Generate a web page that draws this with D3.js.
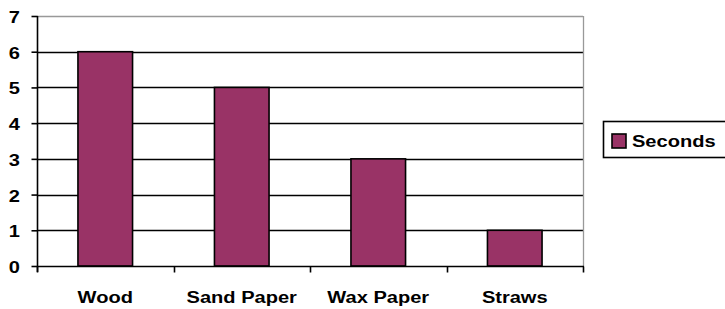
<!DOCTYPE html>
<html>
<head>
<meta charset="utf-8">
<script src="https://cdn.jsdelivr.net/npm/d3@7"></script>
<style>
  html, body { margin: 0; padding: 0; background: #fff; }
  svg { display: block; }
  text { font-family: "Liberation Sans", Arial, sans-serif; font-weight: bold; fill: #000; }
</style>
</head>
<body>
<div id="chart"></div>
<script>
// Data
var categories = ['Wood', 'Sand Paper', 'Wax Paper', 'Straws'];
var seconds = [6, 5, 3, 1];
var yTicks = [0, 1, 2, 3, 4, 5, 6, 7];
var seriesName = 'Seconds';

var width = 725, height = 309;
var plot = { left: 37, right: 583, top: 16, bottom: 266 };
var barColor = '#993366';
var stretch = 1.18; // text in the picture is drawn a bit wide

var svg = d3.select('#chart')
    .append('svg')
    .attr('width', width)
    .attr('height', height);

var x = d3.scaleBand()
    .domain(categories)
    .range([plot.left, plot.right])
    .paddingInner(0.6)
    .paddingOuter(0.3);

var xOuter = d3.scaleBand()
    .domain(categories)
    .range([plot.left, plot.right]);

var y = d3.scaleLinear()
    .domain([0, 7])
    .range([plot.bottom, plot.top]);

// wide text helper
function wideText(parent, tx, ty, str, anchor) {
    return parent.append('text')
        .attr('transform', 'translate(' + tx + ',' + ty + ') scale(' + stretch + ',1)')
        .attr('text-anchor', anchor)
        .attr('font-size', '17px')
        .text(str);
}

// --- grid lines ---
svg.append('g')
    .selectAll('line')
    .data(yTicks.filter(function (d) { return d > 0; }))
    .join('line')
    .attr('x1', plot.left)
    .attr('x2', plot.right)
    .attr('y1', function (d) { return Math.round(y(d)) + 0.5; })
    .attr('y2', function (d) { return Math.round(y(d)) + 0.5; })
    .attr('stroke', function (d) { return d === 7 ? '#999' : '#000'; })
    .attr('stroke-width', 1.3);

// right border
svg.append('line')
    .attr('x1', plot.right + 0.5).attr('x2', plot.right + 0.5)
    .attr('y1', plot.top).attr('y2', plot.bottom)
    .attr('stroke', '#999')
    .attr('stroke-width', 1.3);

// --- bars ---
svg.append('g')
    .selectAll('rect')
    .data(seconds)
    .join('rect')
    .attr('x', function (d, i) { return x(categories[i]); })
    .attr('width', x.bandwidth())
    .attr('y', function (d) { return y(d); })
    .attr('height', function (d) { return y(0) - y(d); })
    .attr('fill', barColor)
    .attr('stroke', '#000')
    .attr('stroke-width', 1.6);

// --- y axis ---
var yAxis = svg.append('g')
    .attr('transform', 'translate(' + (plot.left + 0.5) + ',0)')
    .call(d3.axisLeft(y).tickValues(yTicks).tickSize(6).tickFormat(''));
yAxis.select('.domain').attr('stroke', '#000').attr('stroke-width', 1.6)
    .attr('d', 'M0,' + plot.top + 'V' + (plot.bottom + 6));
yAxis.selectAll('.tick line').attr('stroke', '#000').attr('stroke-width', 1.6);

yTicks.forEach(function (t) {
    wideText(svg, 20, y(t) + 7, String(t), 'end');
});

// --- x axis ---
var xAxis = svg.append('g')
    .attr('transform', 'translate(0,' + (plot.bottom + 0.5) + ')');
xAxis.append('line')
    .attr('x1', plot.left).attr('x2', plot.right + 1)
    .attr('stroke', '#000').attr('stroke-width', 1.6);
xAxis.selectAll('.xt')
    .data(categories.concat(['end']))
    .join('line')
    .attr('class', 'xt')
    .attr('x1', function (d, i) { return Math.round(plot.left + i * xOuter.bandwidth()) + 0.5; })
    .attr('x2', function (d, i) { return Math.round(plot.left + i * xOuter.bandwidth()) + 0.5; })
    .attr('y1', 0).attr('y2', 6)
    .attr('stroke', '#000').attr('stroke-width', 1.6);

categories.forEach(function (c) {
    wideText(svg, xOuter(c) + xOuter.bandwidth() / 2, 303, c, 'middle');
});

// --- legend ---
var legend = svg.append('g');
legend.append('rect')
    .attr('x', 603.5).attr('y', 121.5)
    .attr('width', 130).attr('height', 36)
    .attr('fill', '#fff')
    .attr('stroke', '#000')
    .attr('stroke-width', 1.6);
legend.append('rect')
    .attr('x', 612).attr('y', 134)
    .attr('width', 14).attr('height', 14)
    .attr('fill', barColor)
    .attr('stroke', '#000')
    .attr('stroke-width', 1.6);
wideText(legend, 632, 147, seriesName, 'start');
</script>
</body>
</html>
